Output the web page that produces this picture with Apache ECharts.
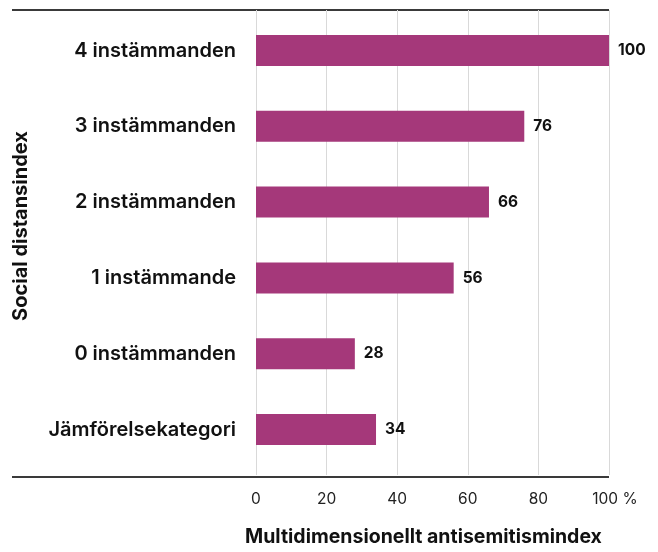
<!DOCTYPE html>
<html>
<head>
<meta charset="utf-8">
<script src="https://cdn.jsdelivr.net/npm/echarts@6/dist/echarts.min.js"></script>
<style>
  html, body { margin: 0; padding: 0; background: #fff; }
  #chart { width: 658px; height: 552px; }
</style>
</head>
<body>
<div id="chart"></div>
<script>
var categories = ['4 instämmanden', '3 instämmanden', '2 instämmanden', '1 instämmande', '0 instämmanden', 'Jämförelsekategori'];
var values = [100, 76, 66, 56, 28, 34];
var xTicks = [0, 20, 40, 60, 80, 100];

var font = 'Inter, "Noto Sans", sans-serif';
let myChart = echarts.init(document.getElementById('chart'));

let option = {
    animation: false,
    textStyle: { fontFamily: font },
    grid: [
        // full-height grid for the vertical lines and x labels
        { left: 256, right: 49, top: 10, bottom: 75 },
        // grid for the bars
        { left: 256, right: 49, top: 12.6, bottom: 84.6 }
    ],
    xAxis: [{
        gridIndex: 0,
        type: 'value',
        min: xTicks[0],
        max: xTicks[xTicks.length - 1],
        interval: 20,
        axisLine: { show: false },
        axisTick: { show: false },
        splitLine: { show: true, lineStyle: { color: '#d9d9d9', width: 1 } },
        axisLabel: {
            margin: 16,
            fontSize: 15.5,
            color: '#222',
            fontFamily: font,
            formatter: function (v) {
                return v === 100 ? '{g|}100 %' : String(v);
            },
            rich: { g: { width: 12 } }
        },
        name: 'Multidimensionellt antisemitismindex',
        nameLocation: 'middle',
        nameGap: 52,
        nameTextStyle: {
            fontSize: 19.5,
            fontWeight: 'bold',
            color: '#111',
            fontFamily: font,
            padding: [0, 18, 0, 0]
        }
    }, {
        gridIndex: 1,
        type: 'value',
        min: 0,
        max: 100,
        show: false
    }],
    yAxis: [{
        gridIndex: 0,
        type: 'value',
        show: false
    }, {
        gridIndex: 1,
        type: 'category',
        inverse: true,
        data: categories,
        axisLine: { show: false },
        axisTick: { show: false },
        axisLabel: {
            margin: 20,
            fontSize: 20,
            fontWeight: 600,
            color: '#111',
            fontFamily: font
        }
    }],
    graphic: [
        { type: 'line', shape: { x1: 12, y1: 10, x2: 609, y2: 10 }, style: { stroke: '#3a3a3a', lineWidth: 2 } },
        { type: 'line', shape: { x1: 12, y1: 477, x2: 609, y2: 477 }, style: { stroke: '#3a3a3a', lineWidth: 2 } },
        {
            type: 'text',
            x: 21,
            y: 226,
            rotation: Math.PI / 2,
            style: {
                text: 'Social distansindex',
                font: 'bold 20px ' + font,
                fill: '#111',
                textAlign: 'center',
                textVerticalAlign: 'middle'
            }
        }
    ],
    series: [{
        type: 'bar',
        xAxisIndex: 1,
        yAxisIndex: 1,
        data: values,
        barWidth: 31,
        itemStyle: { color: '#a5387a' },
        label: {
            show: true,
            position: 'right',
            distance: 9,
            fontSize: 15.5,
            fontWeight: 'bold',
            color: '#111',
            fontFamily: font
        }
    }]
};
myChart.setOption(option);
</script>
</body>
</html>
